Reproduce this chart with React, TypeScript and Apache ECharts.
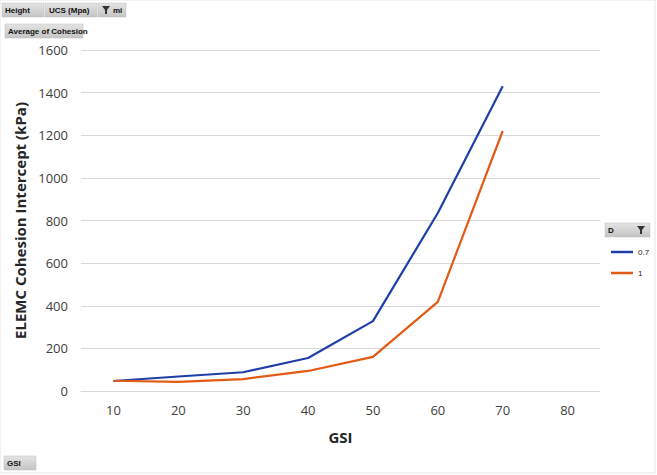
import React, { useEffect, useRef } from "react";
import * as echarts from "echarts";

const categories = ["10", "20", "30", "40", "50", "60", "70", "80"];
const seriesNames = ["0.7", "1"];
const blueValues = [47, 68, 88, 155, 328, 835, 1430, null];
const orangeValues = [48, 43, 56, 94, 160, 418, 1220, null];
const yTitle = "ELEMC Cohesion Intercept (kPa)";
const xTitle = "GSI";
const topButtons = ["Height", "UCS (Mpa)", "mi"];

const btnFill = new echarts.graphic.LinearGradient(0, 0, 0, 1, [
  { offset: 0, color: "#e4e4e4" },
  { offset: 1, color: "#c4c4c4" },
]);

const btnFont = "600 8px Arial, 'Liberation Sans', sans-serif";

function button(x: number, y: number, w: number, h: number, label: string, textX: number) {
  return {
    type: "group",
    children: [
      { type: "rect", shape: { x, y, width: w, height: h }, style: { fill: btnFill, stroke: "#bdbdbd", lineWidth: 0.5 } },
      { type: "text", x: textX, y: y + h / 2, style: { text: label, fill: "#111", font: btnFont, textVerticalAlign: "middle" } },
    ],
  };
}

function funnel(x: number, y: number) {
  return {
    type: "polygon",
    shape: { points: [[x, y], [x + 8, y], [x + 5, y + 4], [x + 5, y + 8], [x + 3, y + 8], [x + 3, y + 4]] },
    style: { fill: "#333" },
  };
}

export default function App() {
  const ref = useRef<HTMLDivElement>(null);
  useEffect(() => {
    const chart = echarts.init(ref.current!, null, { renderer: "svg" });
    chart.setOption({
      animation: false,
      backgroundColor: "#ffffff",
      grid: { left: 81, right: 57, top: 50, bottom: 84 },
      legend: {
        orient: "vertical",
        left: 606,
        top: 243,
        data: seriesNames,
        icon: "rect",
        itemWidth: 22,
        itemHeight: 2.5,
        itemGap: 13,
        textStyle: { fontSize: 8, color: "#222", fontFamily: "Arial, 'Liberation Sans', sans-serif" },
      },
      xAxis: {
        type: "category",
        data: categories,
        boundaryGap: true,
        name: xTitle,
        nameLocation: "middle",
        nameGap: 38,
        nameTextStyle: { fontSize: 15, fontWeight: "bold", color: "#262626", fontFamily: "'Open Sans', Arial, sans-serif" },
        axisLine: { show: true, lineStyle: { color: "#d9d9d9" } },
        axisTick: { show: false },
        axisLabel: { fontSize: 13, color: "#404040", margin: 12, fontFamily: "'Open Sans', Arial, sans-serif" },
      },
      yAxis: {
        type: "value",
        min: 0,
        max: 1600,
        interval: 200,
        name: yTitle,
        nameLocation: "middle",
        nameGap: 53,
        nameTextStyle: { fontSize: 15, fontWeight: "bold", color: "#262626", fontFamily: "'Open Sans', Arial, sans-serif" },
        axisLine: { show: false },
        axisTick: { show: false },
        axisLabel: { fontSize: 13, color: "#404040", margin: 13, fontFamily: "'Open Sans', Arial, sans-serif", formatter: (v: number) => String(v) },
        splitLine: { lineStyle: { color: "#d9d9d9", width: 1 } },
      },
      series: [
        {
          name: seriesNames[0],
          type: "line",
          data: blueValues,
          showSymbol: false,
          symbol: "none",
          lineStyle: { color: "#1f3fa6", width: 2.2 },
          itemStyle: { color: "#1f3fa6" },
        },
        {
          name: seriesNames[1],
          type: "line",
          data: orangeValues,
          showSymbol: false,
          symbol: "none",
          lineStyle: { color: "#e35a14", width: 2.2 },
          itemStyle: { color: "#e35a14" },
        },
      ],
      graphic: [
        { type: "rect", shape: { x: 0, y: 0, width: 655, height: 473 }, style: { fill: "none", stroke: "#e6e6e6", lineWidth: 1 }, silent: true },
        button(2, 3, 42, 14, topButtons[0], 5),
        button(45, 3, 52, 14, topButtons[1], 49),
        {
          type: "group",
          children: [
            { type: "rect", shape: { x: 98, y: 3, width: 28, height: 14 }, style: { fill: btnFill, stroke: "#bdbdbd", lineWidth: 0.5 } },
            funnel(102, 6),
            { type: "text", x: 113, y: 10, style: { text: topButtons[2], fill: "#111", font: btnFont, textVerticalAlign: "middle" } },
          ],
        },
        button(5, 24, 78, 14, "Average of Cohesion", 8),
        button(4, 456, 32, 14, "GSI", 7),
        {
          type: "group",
          children: [
            { type: "rect", shape: { x: 605, y: 223, width: 45, height: 14 }, style: { fill: btnFill, stroke: "#bdbdbd", lineWidth: 0.5 } },
            { type: "text", x: 608, y: 230, style: { text: "D", fill: "#111", font: btnFont, textVerticalAlign: "middle" } },
            funnel(637, 226),
          ],
        },
      ],
    });
    return () => chart.dispose();
  }, []);
  return <div ref={ref} style={{ width: 657, height: 475, position: "absolute", left: 0, top: 0 }} />;
}
